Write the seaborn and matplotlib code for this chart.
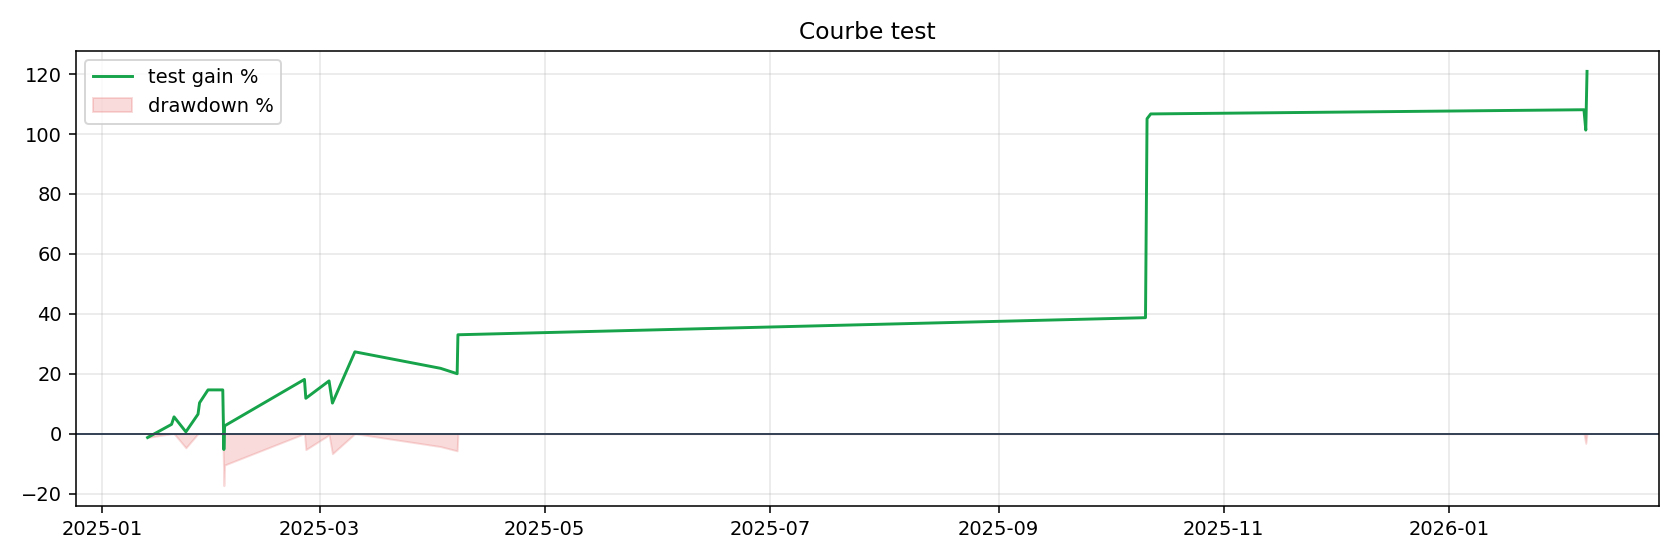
import numpy as np
import pandas as pd
import seaborn as sns
import matplotlib
matplotlib.use("Agg")
import matplotlib.pyplot as plt

# trade timestamps and cumulative gain (%)
dates = pd.to_datetime([
    "2025-01-13 10:00", "2025-01-19 22:00", "2025-01-20 14:00", "2025-01-23 19:00",
    "2025-01-27 02:00", "2025-01-27 12:00", "2025-01-29 19:00", "2025-02-02 19:00",
    "2025-02-03 02:00", "2025-02-03 07:00", "2025-02-24 22:00", "2025-02-25 07:00",
    "2025-03-03 14:00", "2025-03-04 12:00", "2025-03-10 14:00", "2025-04-02 19:00",
    "2025-04-07 07:00", "2025-04-07 12:00", "2025-10-10 19:00", "2025-10-11 05:00",
    "2025-10-12 05:00", "2026-02-06 14:00", "2026-02-07 02:00", "2026-02-07 10:00",
])
gain_pct = [
    -1.3, 3.1, 5.6, 0.6,
    6.5, 10.3, 14.6, 14.6,
    -5.3, 2.6, 18.1, 11.8,
    17.6, 10.2, 27.3, 21.8,
    20.0, 33.0, 38.7, 105.1,
    106.7, 108.1, 101.3, 120.9,
]

# drawdown from the equity curve (starting equity = 1)
equity = 1 + np.array(gain_pct) / 100
peak = np.maximum.accumulate(np.concatenate([[1.0], equity]))[1:]
drawdown_pct = (equity / peak - 1) * 100

df = pd.DataFrame({"date": dates, "gain": gain_pct, "dd": drawdown_pct})

fig, ax = plt.subplots(figsize=(12, 4), dpi=140)

sns.lineplot(data=df, x="date", y="gain", color="#16a34a", linewidth=1.5,
             label="test gain %", ax=ax)
ax.fill_between(df["date"], df["dd"], 0, color="#e03c3c", alpha=0.18,
                label="drawdown %")
ax.axhline(0, color="#334155", linewidth=1)

ax.set_title("Courbe test")
ax.set_xlabel("")
ax.set_ylabel("")
ax.grid(alpha=0.3)
ax.legend(loc="upper left")

plt.tight_layout()
plt.savefig("out.png")
